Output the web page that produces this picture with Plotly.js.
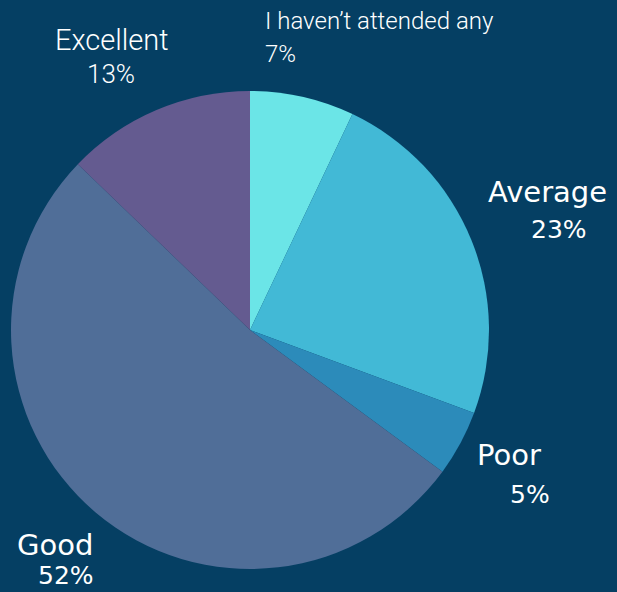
<!DOCTYPE html>
<html>
<head>
<meta charset="utf-8">
<script src="https://cdn.plot.ly/plotly-3.0.1.min.js"></script>
<style>html,body{margin:0;padding:0;background:#053F63;}#chart{width:617px;height:592px;}</style>
</head>
<body>
<div id="chart"></div>
<script>
const categories = ["I haven\u2019t attended any", "Average", "Poor", "Good", "Excellent"];
const values = [7.05, 23.6, 4.45, 52.1, 12.8];
const percentLabels = ["7%", "23%", "5%", "52%", "13%"];
const sliceColors = ["#6BE5E7", "#42B9D6", "#2C8BBA", "#506E98", "#645B90"];

// label placement (pixels): [labelX, labelY, labelAnchor, pctX, pctY, pctAnchor, family, weight, labelSize, pctSize]
const labelPos = [
  [263, 21, "left", 263, 54, "left", "Roboto", 300, 24, 24],
  [547, 192, "center", 559, 230, "center", "DejaVu Sans", 400, 29, 25],
  [509, 455, "center", 530, 494, "center", "DejaVu Sans", 400, 29, 25],
  [55, 545, "center", 66, 575, "center", "DejaVu Sans", 400, 29, 25],
  [112, 40, "center", 111, 74, "center", "Roboto", 300, 29, 26]
];

const W = 617, H = 592;
const annotations = [];
categories.forEach((c, i) => {
  const p = labelPos[i];
  annotations.push({text: c, xref: "paper", yref: "paper", x: p[0] / W, y: 1 - p[1] / H,
    xanchor: p[2], yanchor: "middle", showarrow: false,
    font: {family: p[6], size: p[8], color: "#FFFFFF", weight: p[7]}});
  annotations.push({text: percentLabels[i], xref: "paper", yref: "paper", x: p[3] / W, y: 1 - p[4] / H,
    xanchor: p[5], yanchor: "middle", showarrow: false,
    font: {family: p[6], size: p[9], color: "#FFFFFF", weight: p[7]}});
});

const cx = 250, cy = 330, r = 239;
const trace = {
  type: "pie",
  labels: categories,
  values: values,
  sort: false,
  direction: "clockwise",
  rotation: 0,
  textinfo: "none",
  hoverinfo: "label+percent",
  marker: {colors: sliceColors, line: {width: 0}},
  domain: {x: [(cx - r) / W, (cx + r) / W], y: [1 - (cy + r) / H, 1 - (cy - r) / H]},
  showlegend: false
};

Plotly.newPlot("chart", [trace], {
  width: W, height: H,
  margin: {l: 0, r: 0, t: 0, b: 0},
  paper_bgcolor: "#053F63",
  plot_bgcolor: "#053F63",
  showlegend: false,
  annotations: annotations
}, {displayModeBar: false, staticPlot: true});
</script>
</body>
</html>
